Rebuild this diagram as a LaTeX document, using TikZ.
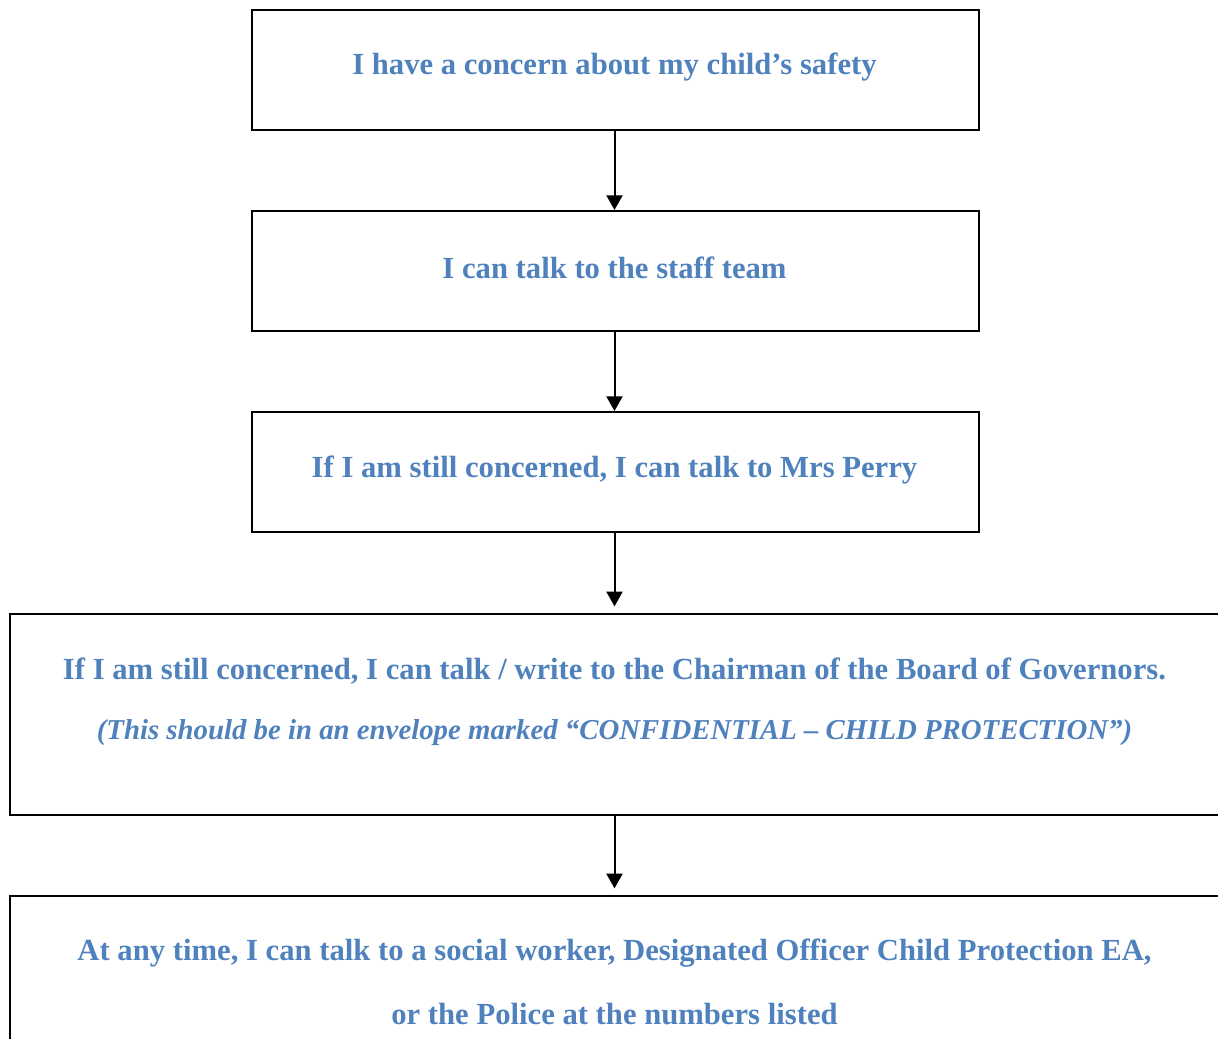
\documentclass[tikz,border=0pt]{standalone}
\usepackage{fontspec}
\setmainfont{Liberation Serif}
\usepackage{tikz}
\usetikzlibrary{arrows.meta}
\definecolor{flowblue}{HTML}{4F81BD}

\begin{document}
\begin{tikzpicture}[x=0.75pt,y=-0.75pt,
  box/.style={draw=black,line width=1.2pt,inner sep=0pt,anchor=north west},
  txt/.style={text=flowblue,font=\fontsize{23}{27}\selectfont\bfseries,inner sep=0pt},
  flow/.style={-{Triangle[length=11pt,width=12pt]},line width=1.5pt}]
\useasboundingbox (0,0) rectangle (1218,1039);
\clip (0,0) rectangle (1218,1039);
% boxes
\node [box,minimum width=727*0.75pt,minimum height=120*0.75pt] (concern) at (251,9) {};
\node [box,minimum width=727*0.75pt,minimum height=120*0.75pt] (staff) at (251,210) {};
\node [box,minimum width=727*0.75pt,minimum height=120*0.75pt] (perry) at (251,411) {};
\node [box,minimum width=1240*0.75pt,minimum height=201*0.75pt] (chair) at (9,613) {};
\node [box,minimum width=1240*0.75pt,minimum height=220*0.75pt] (police) at (9,895) {};
% texts
\node [txt] (t1) at (614.5,67) {I have a concern about my child’s safety};
\node [txt] (t2) at (614.5,268) {I can talk to the staff team};
\node [txt] (t3) at (614.5,470) {If I am still concerned, I can talk to Mrs Perry};
\node [txt] (t4) at (614.5,671) {If I am still concerned, I can talk / write to the Chairman of the Board of Governors.};
\node [txt,font=\fontsize{21.6}{26}\selectfont\bfseries\itshape] (t4b) at (614.5,733) {(This should be in an envelope marked “CONFIDENTIAL – CHILD PROTECTION”)};
\node [txt] (t5) at (614.5,953) {At any time, I can talk to a social worker, Designated Officer Child Protection EA,};
\node [txt] (t5b) at (614.5,1014) {or the Police at the numbers listed};
% arrows
\draw [flow] (concern.south -| t1) -- (staff.north -| t1);
\draw [flow] (staff.south -| t1) -- (perry.north -| t1);
\draw [flow,shorten >=5pt] (perry.south -| t1) -- (chair.north -| t1);
\draw [flow,shorten >=5pt] (chair.south -| t1) -- (police.north -| t1);
\end{tikzpicture}
\end{document}
